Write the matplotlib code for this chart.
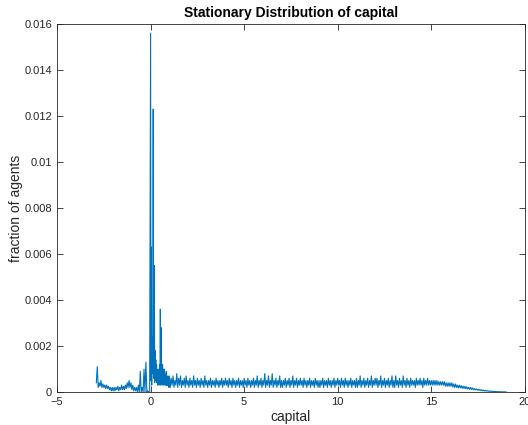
import numpy as np
import matplotlib
matplotlib.use("Agg")
import matplotlib.pyplot as plt

# capital grid pieces (left tail, spike region near zero, main body)
capital_left = np.linspace(-2.90, -0.05, 58)
capital_mid = np.linspace(0.0, 1.0, 51)
capital_right = np.linspace(1.05, 19.0, 360)

# fraction of agents, in units of 1e-4
frac_left = [4, 11, 2, 4, 2.5, 5, 2, 3.5, 2, 3,
             1.5, 3, 1.5, 2.5, 1, 2, 0.5, 2, 0.5, 2,
             0.5, 2, 1, 2.5, 0.5, 2, 1, 3, 1, 2.5,
             1, 3, 1.5, 4, 2, 5, 2, 4, 1, 3,
             0.5, 2, 0.5, 2, 0, 3, 0, 9, 0, 2,
             0, 10, 0, 13, 0, 0.5, 0, 0]
frac_mid = [156, 5, 63, 3, 24, 8, 20, 123, 6, 22,
            55, 4, 18, 10, 14, 5, 12, 4, 9, 3,
            10, 4, 8, 3, 12, 4, 36, 3, 28, 5,
            10, 3, 12, 4, 8, 3, 10, 4, 8, 3,
            7, 3, 9, 3, 6, 3, 7, 3, 6, 2, 7]
frac_right = [
    2, 6, 3, 7, 2, 5, 3, 8, 2, 6, 3, 7, 2, 5, 3, 6, 2, 7, 3, 5,
    2, 6, 3, 5, 2, 7, 3, 5, 2, 6, 3, 5, 2, 6, 3, 5, 2, 7, 3, 5,
    2, 5, 3, 6, 2, 5, 3, 5, 2, 6, 3, 5, 2, 5, 3, 6, 2, 5, 3, 6,
    3, 5, 2, 6, 3, 5, 2, 6, 3, 5, 2, 5, 3, 6, 2, 5, 3, 5, 2, 6,
    3, 5, 2, 6, 3, 5, 2, 5, 3, 6, 2, 5, 3, 7, 2, 5, 3, 6, 2, 5,
    3, 8, 2, 5, 3, 7, 2, 5, 3, 8, 2, 5, 3, 6, 2, 5, 3, 7, 2, 5,
    2, 5, 3, 6, 2, 5, 3, 6, 2, 5, 3, 7, 2, 5, 3, 6, 2, 5, 3, 6,
    3, 5, 2, 6, 3, 5, 2, 5, 3, 6, 2, 5, 3, 5, 2, 6, 3, 5, 2, 5,
    2, 5, 3, 6, 2, 5, 3, 5, 2, 6, 3, 5, 2, 5, 3, 6, 2, 5, 3, 6,
    3, 5, 2, 6, 3, 5, 2, 6, 3, 5, 2, 5, 3, 6, 2, 5, 3, 5, 2, 6,
    2, 5, 3, 7, 2, 5, 3, 6, 2, 5, 3, 6, 2, 5, 3, 7, 2, 5, 3, 6,
    3, 6, 2, 5, 3, 7, 2, 5, 3, 6, 2, 5, 3, 6, 2, 5, 3, 7, 2, 5,
    2, 7, 3, 5, 2, 6, 3, 5, 2, 7, 3, 5, 2, 6, 3, 5, 2, 6, 3, 5,
    3, 5, 2, 6, 3, 5, 3, 6, 3, 5, 2, 6, 3, 5, 3, 6, 3, 5, 3, 5,
    3, 5, 3, 5, 3, 5, 3, 4.5, 3, 4.5, 3, 4.5, 3, 4.5, 2.5, 4, 2.5, 4, 2.5, 4,
    2.5, 4, 2.2, 3.5, 2, 3.5, 2, 3, 1.8, 3, 1.8, 2.8, 1.6, 2.6, 1.5, 2.5, 1.4, 2.3, 1.3, 2,
    1.2, 2, 1.1, 1.8, 1, 1.5, 0.9, 1.4, 0.8, 1.2, 0.7, 1.1, 0.6, 1, 0.5, 0.8, 0.4, 0.7, 0.4, 0.6,
    0.3, 0.5, 0.3, 0.4, 0.2, 0.3, 0.2, 0.3, 0.15, 0.2, 0.1, 0.2, 0.1, 0.15, 0.08, 0.1, 0.05, 0.08, 0.03, 0.05]

capital = np.concatenate([capital_left, capital_mid, capital_right])
fraction = np.concatenate([frac_left, frac_mid, frac_right]) * 1e-4

plt.rcParams['font.family'] = ['Liberation Sans', 'DejaVu Sans']

fig = plt.figure(figsize=(5.28, 4.25), dpi=100)
ax = fig.add_axes([0.108, 0.0776, 0.886, 0.866])

ax.plot(capital, fraction, color='#0072BD', linewidth=0.8)

ax.set_xlim(-5, 20)
ax.set_ylim(0, 0.016)
ax.set_xticks([-5, 0, 5, 10, 15, 20])
ax.set_yticks(np.arange(0, 0.0161, 0.002))
ax.set_yticklabels(['0', '0.002', '0.004', '0.006', '0.008', '0.01',
                    '0.012', '0.014', '0.016'])
ax.tick_params(direction='in', top=True, right=True, length=4,
               width=0.6, labelsize=8, colors='#262626', pad=3.5)
for s in ax.spines.values():
    s.set_linewidth(0.6)
    s.set_color('#262626')

ax.set_title('Stationary Distribution of capital', fontsize=10,
             fontweight='bold', color='black', pad=5)
ax.set_xlabel('capital', fontsize=10, color='#262626', labelpad=2)
ax.set_ylabel('fraction of agents', fontsize=10, color='#262626')
ax.yaxis.set_label_coords(-0.073, 0.5)

fig.savefig('out.png', dpi=100)
